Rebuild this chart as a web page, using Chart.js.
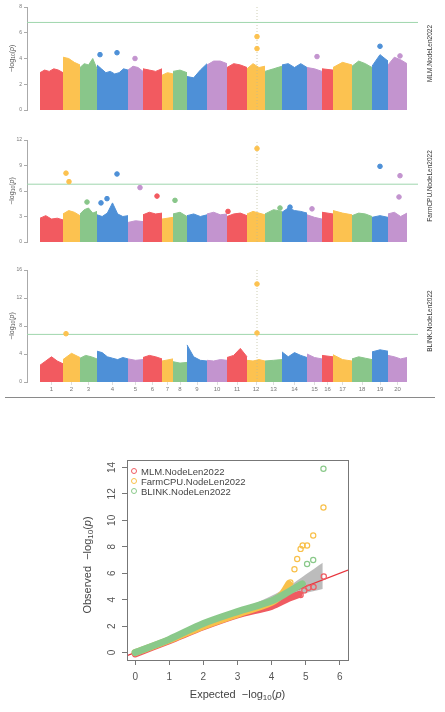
<!DOCTYPE html>
<html lang="en">
<head>
<meta charset="UTF-8">
<title>NodeLen2022 GWAS</title>
<script src="https://cdn.jsdelivr.net/npm/chart.js"></script>
<style>
  body { margin: 0; background: #fff; font-family: 'Liberation Sans', Arial, sans-serif; }
  .wrap { position: relative; width: 445px; height: 712px; overflow: hidden; }
  canvas { position: absolute; left: 0; }
  #rule { position: absolute; left: 5px; top: 397px; width: 430px; border-top: 1px solid #8a8a8a; }
  #qqLegend { position: absolute; left: 131px; top: 466px; font-size: 9.5px; color: #444; }
  #qqLegend div { display: flex; align-items: center; height: 10px; white-space: nowrap; }
  #qqLegend span.dot { width: 4px; height: 4px; border-radius: 50%; border: 1.3px solid; margin-right: 4px; }
</style>
</head>
<body>
<div class="wrap">
  <canvas id="mlm" width="445" height="130" style="top:0"></canvas>
  <canvas id="farm" width="445" height="135" style="top:130px"></canvas>
  <canvas id="blink" width="445" height="135" style="top:265px"></canvas>
  <div id="rule"></div>
  <canvas id="qq" width="445" height="272" style="top:440px"></canvas>
  <div id="qqLegend"></div>
</div>
<script>
Chart.defaults.font.family = "'Liberation Sans', Arial, sans-serif";

// chromosomes (relative length, read from block widths)
const chromNames = ['1','2','3','4','5','6','7','8','9','10','11','12','13','14','15','16','17','18','19','20'];
const chromLens = [23,17,17,31,15,19,11,14,20,20,20,18,17,25,15,11,19,20,16,19];
const chromColors = ['#f25a60','#fcc250','#89c68a','#4e90d7','#c394cf'];
const threshold = 6.8;
const peakPos = 217;
const xMin = -13, xMax = 378;

// top of the point cloud along each chromosome
const mlmProfile = [
  [2.9,3.1,3.0,3.2,3.1,2.9],[4.1,4.0,3.7,3.5],[3.3,3.6,3.5,4.0,3.2],[3.5,3.2,2.9,3.0,2.8,2.9,3.2,3.1],
  [3.1,3.4,3.3,3.0],[3.2,3.1,3.0,3.2],[2.7,2.9,2.8],[3.0,3.1,2.9],[2.6,2.5,3.1,3.6],[3.5,3.8,3.8,3.6],
  [3.3,3.6,3.5,3.3],[3.2,3.6,3.3,3.4],[3.0,3.2,3.4],[3.5,3.6,3.3,3.6,3.3],[3.3,3.2,3.0],
  [3.2,3.1],[3.3,3.7,3.5],[3.4,3.8,3.6,3.3],[3.4,4.3,3.8],[3.5,4.1,3.9,3.6]
];
const mlmHits = [[60,4.3],[77,4.45],[95,4.0],[217,5.7],[217,4.77],[277,4.15],[340,4.95],[360,4.2]];

const farmProfile = [
  [2.8,3.1,2.7,2.8,2.6],[3.3,3.7,3.5,3.1],[3.3,3.8,4.0,3.4,3.6],[3.2,3.0,3.4,4.6,3.3,3.0,3.1],
  [2.3,2.5,2.4],[3.2,3.5,3.3,3.4],[2.7,2.9],[3.3,3.5,3.0],[3.1,3.3,3.0,3.2],[3.3,3.5,3.2,3.3],
  [3.0,3.3,3.4,3.1],[3.3,3.6,3.4,3.2],[3.3,3.8,3.6],[3.5,4.0,3.7,3.6,3.4],[3.2,2.9,2.7],
  [3.5,3.3],[3.7,3.4,3.2],[3.1,3.4,3.3,3.0],[2.9,3.1,2.9],[3.3,3.5,3.0,3.4]
];
const farmHits = [[26,8.1],[29,7.1],[77,8.0],[100,6.4],[117,5.4],[135,4.9],[217,11.0],[340,8.9],
  [360,7.8],[359,5.3],[47,4.7],[61,4.6],[67,5.1],[188,3.6],[240,4.0],[250,4.1],[272,3.9]];

const blinkProfile = [
  [2.4,3.0,3.6,3.0,2.6],[3.2,4.1,3.5],[3.4,3.8,3.6,3.3],[4.4,4.2,3.6,3.4,3.2,3.5,3.3],
  [3.3,3.1,3.2],[3.5,3.8,3.6,3.3],[3.0,3.3],[2.9,2.7,2.8],[5.3,3.6,3.1,3.0],[3.1,3.0,3.2,3.1],
  [3.5,3.8,4.8,3.6],[3.1,3.0,3.2,3.0],[3.0,3.1,3.2],[4.3,3.6,4.2,3.8,3.5],[4.0,3.5,3.3],
  [3.8,3.6],[3.9,3.2,3.0],[3.3,3.6,3.4,3.2],[4.3,4.6,4.4],[3.8,3.6,3.3,3.5]
];
const blinkHits = [[26,6.9],[217,14.0],[217,7.0]];

// QQ plot
const qqNames = ['MLM.NodeLen2022','FarmCPU.NodeLen2022','BLINK.NodeLen2022'];
const qqColors = ['#ef5b61','#f8c04a','#8ac98a'];
const mlmBulk = [[0,-0.1],[1,0.9],[2,1.95],[3,2.85],[4,3.5],[4.5,4.1],[4.8,4.4]];
const farmBulk = [[0,0],[1,0.95],[2,2.0],[3,2.9],[4,3.8],[4.3,4.4],[4.5,5.2]];
const blinkBulk = [[0,0],[1,1.0],[2,2.2],[3,3.1],[4,3.9],[4.5,4.6],[4.9,5.2]];
const mlmTail = [[5.53,5.75],[5.23,4.96],[5.08,4.9],[4.96,4.7],[4.85,4.35]];
const farmTail = [[5.52,10.97],[5.22,8.85],[5.04,8.1],[4.91,8.1],[4.85,7.84],[4.75,7.08],[4.67,6.3],[4.55,5.3]];
const blinkTail = [[5.52,13.9],[5.22,7.0],[5.04,6.7]];
const ciLow = [[3.5,3.4],[4,3.8],[4.5,4.2],[5,4.5],[5.5,4.8]];
const ciHigh = [[3.5,3.7],[4,4.3],[4.5,5.0],[5,5.9],[5.5,6.8]];
const qqXTicks = [0,1,2,3,4,5,6];
const qqYTicks = [0,2,4,6,8,10,12,14];

const chromStart = [];
let acc = 0;
chromLens.forEach(l => { chromStart.push(acc); acc += l; });
const chromMid = chromLens.map((l, i) => chromStart[i] + l / 2);
function colorAt(x) {
  let i = chromStart.findIndex((s, k) => x >= s && x < s + chromLens[k]);
  if (i < 0) i = chromLens.length - 1;
  return chromColors[i % chromColors.length];
}
const pts = arr => arr.map(p => ({x: p[0], y: p[1]}));

// -log10(p) with subscript and italic p
function drawLogText(ctx, lead, size, x, y, angle, color) {
  const fam = " 'Liberation Sans', Arial, sans-serif";
  const segs = [
    {t: lead + '\u2212log', f: size + 'px', dy: 0},
    {t: '10', f: Math.round(size * 0.7) + 'px', dy: size * 0.28},
    {t: '(', f: size + 'px', dy: 0},
    {t: 'p', f: 'italic ' + size + 'px', dy: 0},
    {t: ')', f: size + 'px', dy: 0}
  ];
  ctx.save();
  ctx.translate(x, y);
  ctx.rotate(angle);
  ctx.fillStyle = color;
  ctx.textBaseline = 'middle';
  ctx.textAlign = 'left';
  let w = 0;
  segs.forEach(s => { ctx.font = s.f + fam; s.w = ctx.measureText(s.t).width; w += s.w; });
  let cx = -w / 2;
  segs.forEach(s => { ctx.font = s.f + fam; ctx.fillText(s.t, cx, s.dy); cx += s.w; });
  ctx.restore();
}

function manhattan(id, profile, hits, yMax, yStep, trait, showX, pad) {
  const datasets = [];
  datasets.push({
    type: 'scatter', data: pts(hits), order: 0, pointRadius: 2.3,
    pointBackgroundColor: hits.map(h => colorAt(h[0])), pointBorderColor: hits.map(h => colorAt(h[0]))
  });
  datasets.push({
    type: 'line', data: [{x: xMin, y: threshold}, {x: xMax, y: threshold}], order: 1,
    borderColor: '#9fd6ad', borderWidth: 1, pointRadius: 0
  });
  datasets.push({
    type: 'line', data: [{x: peakPos, y: 0}, {x: peakPos, y: yMax}], order: 2,
    borderColor: 'rgba(185,185,150,0.7)', borderDash: [1, 2], borderWidth: 1, pointRadius: 0
  });
  profile.forEach((vals, i) => {
    const n = vals.length;
    const col = chromColors[i % chromColors.length];
    datasets.push({
      type: 'line', order: 3, fill: 'origin', tension: 0, pointRadius: 0,
      data: vals.map((v, k) => ({x: chromStart[i] + chromLens[i] * k / (n - 1), y: v})),
      backgroundColor: col, borderColor: col, borderWidth: 1
    });
  });

  new Chart(document.getElementById(id), {
    type: 'scatter',
    data: {datasets},
    options: {
      responsive: false,
      animation: false,
      layout: {padding: {top: pad[0], bottom: pad[1], left: 0, right: 27}},
      plugins: {legend: {display: false}, tooltip: {enabled: false}},
      scales: {
        x: {
          type: 'linear', min: xMin, max: xMax, display: showX,
          afterBuildTicks: s => { s.ticks = chromMid.map(v => ({value: v})); },
          ticks: {callback: (v, i) => chromNames[i], font: {size: 6}, color: '#777', padding: 1, autoSkip: false, maxRotation: 0},
          grid: {drawOnChartArea: false, tickLength: 3, color: '#ddd'},
          border: {display: false},
          afterFit: s => { s.height = 14; }
        },
        y: {
          min: 0, max: yMax,
          ticks: {stepSize: yStep, font: {size: 5}, color: '#777', padding: 2},
          grid: {drawOnChartArea: false, tickLength: 3, color: '#aaa'},
          border: {color: '#aaa'},
          afterFit: s => { s.width = 27; }
        }
      }
    },
    plugins: [{
      id: 'panelText',
      afterDraw(chart) {
        const {ctx, chartArea: a} = chart;
        const mid = (a.top + a.bottom) / 2;
        drawLogText(ctx, '', 7, 12, mid, -Math.PI / 2, '#555');
        ctx.save();
        ctx.translate(430, mid - 5);
        ctx.rotate(-Math.PI / 2);
        ctx.font = "6.5px 'Liberation Sans', Arial, sans-serif";
        ctx.fillStyle = '#333';
        ctx.textAlign = 'center';
        ctx.textBaseline = 'middle';
        ctx.fillText(trait, 0, 0);
        ctx.restore();
      }
    }]
  });
}

manhattan('mlm', mlmProfile, mlmHits, 8, 2, 'MLM.NodeLen2022', false, [7, 6]);
manhattan('farm', farmProfile, farmHits, 12, 3, 'FarmCPU.NodeLen2022', false, [10, 9]);
manhattan('blink', blinkProfile, blinkHits, 16, 4, 'BLINK.NodeLen2022', true, [5, 4]);

// QQ plot
const bulks = [mlmBulk, farmBulk, blinkBulk];
const tails = [mlmTail, farmTail, blinkTail];
const qqSets = [];
tails.forEach((t, i) => {
  qqSets.push({
    type: 'scatter', label: qqNames[i], data: pts(t), order: 0,
    pointRadius: 2.6, pointBorderWidth: 1.2, pointBorderColor: qqColors[i], pointBackgroundColor: 'rgba(0,0,0,0)'
  });
});
const bulkOrder = [3, 2, 1];
bulks.forEach((b, i) => {
  qqSets.push({
    type: 'line', data: pts(b), order: bulkOrder[i], tension: 0.3,
    borderColor: qqColors[i], borderWidth: 7, borderCapStyle: 'round', borderJoinStyle: 'round', pointRadius: 0
  });
});
qqSets.push({
  type: 'line', data: [{x: -0.24, y: -0.24}, {x: 6.24, y: 6.24}], order: 4,
  borderColor: '#e8343c', borderWidth: 1.3, pointRadius: 0
});
qqSets.push({type: 'line', data: pts(ciLow), order: 5, borderWidth: 0, pointRadius: 0, tension: 0.3});
qqSets.push({
  type: 'line', data: pts(ciHigh), order: 5, borderWidth: 0, pointRadius: 0, tension: 0.3,
  fill: '-1', backgroundColor: 'rgba(165,165,165,0.75)'
});

new Chart(document.getElementById('qq'), {
  type: 'scatter',
  data: {datasets: qqSets},
  options: {
    responsive: false,
    animation: false,
    layout: {padding: {top: 20, right: 97, left: 0, bottom: 0}},
    plugins: {legend: {display: false}, tooltip: {enabled: false}},
    scales: {
      x: {
        type: 'linear', min: -0.24, max: 6.24,
        afterBuildTicks: s => { s.ticks = qqXTicks.map(v => ({value: v})); },
        ticks: {font: {size: 10}, color: '#555', padding: 6, maxRotation: 0},
        grid: {drawOnChartArea: false, tickLength: 5, color: '#777'},
        border: {color: '#777'},
        afterFit: s => { s.height = 52; }
      },
      y: {
        min: -0.56, max: 14.56,
        afterBuildTicks: s => { s.ticks = qqYTicks.map(v => ({value: v})); },
        ticks: {display: false},
        grid: {drawOnChartArea: false, tickLength: 5, color: '#777'},
        border: {color: '#777'},
        afterFit: s => { s.width = 127; }
      }
    }
  },
  plugins: [{
    id: 'qqDecor',
    afterDraw(chart) {
      const {ctx, chartArea: a, scales} = chart;
      ctx.save();
      ctx.strokeStyle = '#777';
      ctx.lineWidth = 1;
      ctx.strokeRect(a.left + 0.5, a.top + 0.5, a.right - a.left, a.bottom - a.top);
      ctx.fillStyle = '#555';
      ctx.font = "10px 'Liberation Sans', Arial, sans-serif";
      ctx.textAlign = 'center';
      ctx.textBaseline = 'middle';
      qqYTicks.forEach(v => {
        ctx.save();
        ctx.translate(112, scales.y.getPixelForValue(v));
        ctx.rotate(-Math.PI / 2);
        ctx.fillText(String(v), 0, 0);
        ctx.restore();
      });
      ctx.restore();
      drawLogText(ctx, 'Expected  ', 11, (a.left + a.right) / 2, 255, 0, '#444');
      drawLogText(ctx, 'Observed  ', 11, 88, (a.top + a.bottom) / 2 + 5, -Math.PI / 2, '#444');
    }
  }]
});

// legend
const leg = document.getElementById('qqLegend');
qqNames.forEach((n, i) => {
  const row = document.createElement('div');
  const dot = document.createElement('span');
  dot.className = 'dot';
  dot.style.borderColor = qqColors[i];
  row.appendChild(dot);
  row.appendChild(document.createTextNode(n));
  leg.appendChild(row);
});
</script>
</body>
</html>
